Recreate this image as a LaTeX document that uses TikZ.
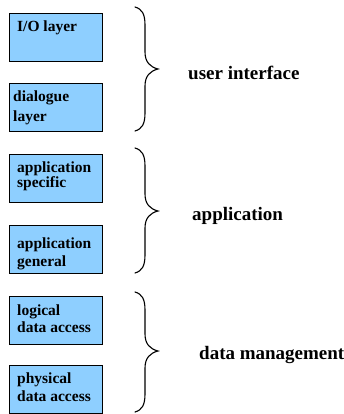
\documentclass[tikz,border=0pt]{standalone}
\usepackage{fontspec}
\setmainfont{Liberation Serif}
\definecolor{boxblue}{RGB}{142,207,255}
\begin{document}
\begin{tikzpicture}[x=1pt,y=-1pt,
  layerbox/.style={draw=black,line width=1.2pt,fill=boxblue,minimum width=93pt,minimum height=48pt,inner sep=0pt,anchor=north west},
  boxtext/.style={anchor=base west,inner sep=0pt,font=\fontsize{15.5}{15.5}\selectfont\bfseries},
  grouplabel/.style={anchor=base west,inner sep=0pt,font=\fontsize{19}{19}\selectfont\bfseries},
  bracestyle/.style={line width=1.1pt,line cap=round}]
\useasboundingbox (0,0) rectangle (344,414);
% boxes
\node[layerbox] (b1) at (8.5,13) {};
\node[layerbox] (b2) at (8.5,83) {};
\node[layerbox] (b3) at (8.5,154) {};
\node[layerbox] (b4) at (8.5,224.5) {};
\node[layerbox] (b5) at (8.5,296) {};
\node[layerbox] (b6) at (8.5,365) {};
% box texts
\node[boxtext] (t1) at (17,31.5) {I/O layer};
\node[boxtext] (t2a) at (13,101.5) {dialogue};
\node[boxtext] (t2b) at (13,121.5) {layer};
\node[boxtext] (t3a) at (17,172.5) {application};
\node[boxtext] (t3b) at (17,187.5) {specific};
\node[boxtext] (t4a) at (17,248.5) {application};
\node[boxtext] (t4b) at (17,266.5) {general};
\node[boxtext] (t5a) at (17,315.5) {logical};
\node[boxtext] (t5b) at (17,332.5) {data access};
\node[boxtext] (t6a) at (17,383.5) {physical};
\node[boxtext] (t6b) at (17,401.5) {data access};
% braces
\foreach \top/\tip/\bot in {7/69/131, 148/211/273, 292/351/412}{
  \draw[bracestyle]
    (135,\top) .. controls (142,\top+2) and (145,\top+7) .. (145,\top+18)
    -- (145,\tip-17) .. controls (145,\tip-7) and (150,\tip-2) .. (158,\tip)
    .. controls (150,\tip+2) and (145,\tip+7) .. (145,\tip+17)
    -- (145,\bot-18) .. controls (145,\bot-7) and (142,\bot-2) .. (135,\bot);
}
% labels
\node[grouplabel] (l1) at (188,80) {user interface};
\node[grouplabel] (l2) at (192,220) {application};
\node[grouplabel] (l3) at (199,359) {data management};
\end{tikzpicture}
\end{document}
